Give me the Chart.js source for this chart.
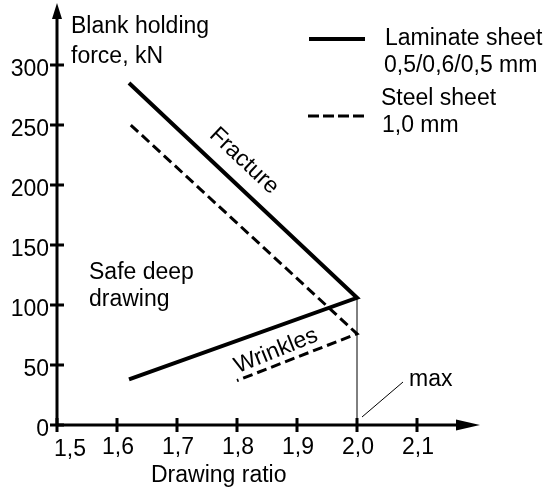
<!DOCTYPE html>
<html>
<head>
<meta charset="utf-8">
<title>Blank holding force vs drawing ratio</title>
<script src="https://cdn.jsdelivr.net/npm/chart.js@4.4.1/dist/chart.umd.min.js"></script>
<style>
  html, body { margin: 0; padding: 0; background: #fff; }
  #wrap { width: 543px; height: 488px; }
</style>
</head>
<body>
<div id="wrap"><canvas id="chart" width="543" height="488"></canvas></div>
<script>
// Axis ticks
const xTicks = [1.5, 1.6, 1.7, 1.8, 1.9, 2.0, 2.1];
const xTickLabels = ['1,5', '1,6', '1,7', '1,8', '1,9', '2,0', '2,1'];
const yTicks = [0, 50, 100, 150, 200, 250, 300];
const yTickLabels = ['0', '50', '100', '150', '200', '250', '300'];

// Laminate sheet 0,5/0,6/0,5 mm: fracture limit -> corner -> wrinkle limit
const laminateRatio = [1.62, 2.0, 1.62];
const laminateForce = [285, 106, 38];

// Steel sheet 1,0 mm: fracture limit -> corner -> wrinkle limit
const steelRatio = [1.623, 2.0, 1.8];
const steelForce = [250, 76, 37];

// Maximum drawing ratio marker
const maxRatio = [2.0, 2.0];
const maxForce = [0, 106];

const FONT = '23px "Liberation Sans", Arial, Helvetica, sans-serif';
const toPoints = (xs, ys) => xs.map((x, i) => ({ x, y: ys[i] }));

const overlay = {
  id: 'overlay',
  afterDraw(chart) {
    const ctx = chart.ctx;
    const xs = chart.scales.x, ys = chart.scales.y;
    const area = chart.chartArea;
    const x0 = xs.getPixelForValue(1.5);
    const y0 = ys.getPixelForValue(0);
    ctx.save();
    ctx.fillStyle = '#000';
    ctx.strokeStyle = '#000';
    ctx.lineCap = 'butt';

    // axes with arrow heads
    ctx.lineWidth = 3;
    ctx.beginPath();
    ctx.moveTo(x0, y0); ctx.lineTo(area.right - 18, y0);
    ctx.moveTo(x0, y0); ctx.lineTo(x0, area.top + 12);
    ctx.stroke();
    ctx.beginPath();
    ctx.moveTo(area.right, y0);
    ctx.lineTo(area.right - 24, y0 - 5.5);
    ctx.lineTo(area.right - 24, y0 + 5.5);
    ctx.closePath(); ctx.fill();
    ctx.beginPath();
    ctx.moveTo(x0, area.top);
    ctx.lineTo(x0 - 5, area.top + 16);
    ctx.lineTo(x0 + 5, area.top + 16);
    ctx.closePath(); ctx.fill();

    // tick marks
    ctx.lineWidth = 3;
    ctx.beginPath();
    xTicks.forEach(v => {
      const p = xs.getPixelForValue(v);
      ctx.moveTo(p, y0 - 7); ctx.lineTo(p, y0 + 7);
    });
    yTicks.forEach(v => {
      const p = ys.getPixelForValue(v);
      ctx.moveTo(x0 - 7, p); ctx.lineTo(x0 + 7, p);
    });
    ctx.stroke();

    // tick labels
    ctx.font = FONT;
    ctx.textBaseline = 'alphabetic';
    xTicks.forEach((v, i) => {
      const p = xs.getPixelForValue(v);
      if (i === 0) { ctx.textAlign = 'left'; ctx.fillText(xTickLabels[i], p - 3, y0 + 31); }
      else { ctx.textAlign = 'center'; ctx.fillText(xTickLabels[i], p + 1, y0 + 29); }
    });
    ctx.textAlign = 'right';
    yTicks.forEach((v, i) => {
      const p = ys.getPixelForValue(v);
      ctx.fillText(yTickLabels[i], x0 - 8, p + 11);
    });

    // axis titles
    ctx.textAlign = 'left';
    ctx.fillText('Drawing ratio', 151, 482);
    ctx.fillText('Blank holding', 71, 33);
    ctx.fillText('force, kN', 71, 63);

    // region annotations
    ctx.fillText('Safe deep', 89, 279);
    ctx.fillText('drawing', 89, 306);

    ctx.save();
    ctx.translate(244, 161);
    ctx.rotate(43.3 * Math.PI / 180);
    ctx.textAlign = 'center'; ctx.textBaseline = 'middle';
    ctx.fillText('Fracture', 0, 0);
    ctx.restore();

    ctx.save();
    ctx.translate(276, 351);
    ctx.rotate(-22 * Math.PI / 180);
    ctx.textAlign = 'center'; ctx.textBaseline = 'middle';
    ctx.fillText('Wrinkles', 0, 0);
    ctx.restore();

    // "max" label with leader line
    const mx = xs.getPixelForValue(2.0);
    ctx.lineWidth = 1;
    ctx.beginPath();
    ctx.moveTo(mx + 5, y0 - 8); ctx.lineTo(mx + 46, y0 - 43);
    ctx.stroke();
    ctx.textAlign = 'left';
    ctx.fillText('max', 409, 386);

    // legend
    ctx.lineWidth = 4;
    ctx.setLineDash([]);
    ctx.beginPath(); ctx.moveTo(309, 39); ctx.lineTo(365, 39); ctx.stroke();
    ctx.lineWidth = 3;
    ctx.setLineDash([11, 4]);
    ctx.beginPath(); ctx.moveTo(308, 116); ctx.lineTo(364, 116); ctx.stroke();
    ctx.setLineDash([]);
    ctx.fillText('Laminate sheet', 385, 45);
    ctx.fillText('0,5/0,6/0,5 mm', 384, 72);
    ctx.fillText('Steel sheet', 381, 105);
    ctx.fillText('1,0 mm', 382, 132);

    ctx.restore();
  }
};

new Chart(document.getElementById('chart'), {
  type: 'scatter',
  data: {
    datasets: [
      {
        label: 'Laminate sheet 0,5/0,6/0,5 mm',
        data: toPoints(laminateRatio, laminateForce),
        showLine: true, borderColor: '#000', borderWidth: 4,
        borderJoinStyle: 'miter', pointRadius: 0, tension: 0, clip: false
      },
      {
        label: 'Steel sheet 1,0 mm',
        data: toPoints(steelRatio, steelForce),
        showLine: true, borderColor: '#000', borderWidth: 3, borderDash: [10, 5],
        borderJoinStyle: 'miter', pointRadius: 0, tension: 0, clip: false
      },
      {
        label: 'max',
        data: toPoints(maxRatio, maxForce),
        showLine: true, borderColor: '#000', borderWidth: 1,
        pointRadius: 0, tension: 0, clip: false
      }
    ]
  },
  options: {
    responsive: false,
    animation: false,
    devicePixelRatio: 1,
    layout: { padding: { left: 57, right: 63, top: 3, bottom: 63 } },
    plugins: { legend: { display: false }, tooltip: { enabled: false } },
    scales: {
      x: { type: 'linear', min: 1.5, max: 2.205, display: false },
      y: { type: 'linear', min: 0, max: 351.7, display: false }
    }
  },
  plugins: [overlay]
});
</script>
</body>
</html>
